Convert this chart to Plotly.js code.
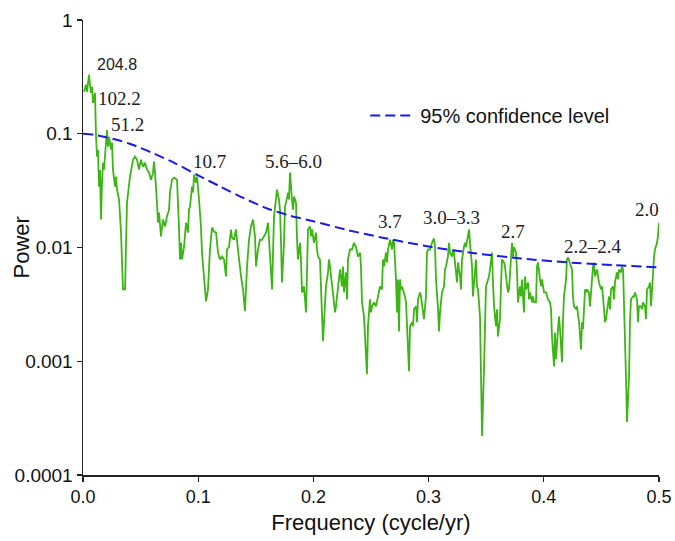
<!DOCTYPE html>
<html>
<head>
<meta charset="utf-8">
<script src="https://cdn.plot.ly/plotly-3.0.1.min.js"></script>
<style>html,body{margin:0;padding:0;background:#fff;}#chart{width:675px;height:541px;}</style>
</head>
<body>
<div id="chart"></div>
<script>
// Spectrum: frequency (cycle/yr) and power
const freq = [
0.0009,0.0026,0.0035,0.0052,0.0069,0.0078,0.0087,0.0104,0.0113,0.0122,0.0130,0.0139,0.0148,0.0156,0.0165,0.0174,0.0182,0.0200,0.0208,0.0217,
0.0226,0.0243,0.0252,0.0260,0.0278,0.0286,0.0295,0.0313,0.0330,0.0347,0.0365,0.0373,0.0382,0.0408,0.0434,0.0451,0.0469,0.0486,0.0503,0.0521,
0.0538,0.0556,0.0573,0.0590,0.0608,0.0616,0.0625,0.0642,0.0651,0.0660,0.0677,0.0694,0.0712,0.0729,0.0747,0.0755,0.0773,0.0790,0.0816,0.0833,
0.0842,0.0851,0.0859,0.0877,0.0885,0.0894,0.0911,0.0920,0.0929,0.0946,0.0955,0.0964,0.0981,0.0990,0.1007,0.1024,0.1033,0.1050,0.1068,0.1085,
0.1102,0.1120,0.1137,0.1155,0.1172,0.1189,0.1207,0.1224,0.1241,0.1250,0.1267,0.1285,0.1293,0.1311,0.1328,0.1345,0.1354,0.1372,0.1389,0.1406,
0.1424,0.1441,0.1458,0.1476,0.1493,0.1502,0.1519,0.1536,0.1554,0.1571,0.1589,0.1606,0.1623,0.1641,0.1658,0.1675,0.1684,0.1701,0.1710,0.1719,
0.1727,0.1745,0.1753,0.1762,0.1780,0.1788,0.1797,0.1814,0.1823,0.1832,0.1849,0.1858,0.1866,0.1884,0.1892,0.1901,0.1918,0.1927,0.1936,0.1953,
0.1970,0.1979,0.1988,0.2005,0.2023,0.2031,0.2040,0.2057,0.2075,0.2083,0.2092,0.2109,0.2127,0.2135,0.2144,0.2161,0.2179,0.2188,0.2196,0.2214,
0.2222,0.2231,0.2248,0.2257,0.2266,0.2283,0.2292,0.2300,0.2318,0.2335,0.2352,0.2370,0.2387,0.2405,0.2413,0.2422,0.2439,0.2448,0.2465,0.2474,
0.2491,0.2500,0.2509,0.2526,0.2543,0.2561,0.2578,0.2595,0.2604,0.2613,0.2630,0.2639,0.2648,0.2665,0.2682,0.2691,0.2700,0.2717,0.2726,0.2734,
0.2743,0.2752,0.2760,0.2769,0.2786,0.2795,0.2804,0.2821,0.2830,0.2839,0.2856,0.2865,0.2873,0.2891,0.2899,0.2908,0.2925,0.2934,0.2943,0.2960,
0.2977,0.2986,0.2995,0.3012,0.3030,0.3047,0.3056,0.3064,0.3082,0.3090,0.3099,0.3116,0.3134,0.3142,0.3151,0.3168,0.3177,0.3186,0.3203,0.3212,
0.3220,0.3238,0.3247,0.3255,0.3273,0.3281,0.3290,0.3307,0.3316,0.3325,0.3342,0.3351,0.3359,0.3377,0.3385,0.3394,0.3411,0.3420,0.3429,0.3446,
0.3455,0.3464,0.3481,0.3490,0.3498,0.3516,0.3524,0.3533,0.3550,0.3559,0.3568,0.3585,0.3594,0.3602,0.3620,0.3628,0.3637,0.3655,0.3663,0.3672,
0.3689,0.3698,0.3707,0.3724,0.3733,0.3741,0.3759,0.3767,0.3776,0.3793,0.3802,0.3811,0.3828,0.3837,0.3845,0.3863,0.3872,0.3880,0.3898,0.3906,
0.3915,0.3932,0.3941,0.3950,0.3967,0.3976,0.3984,0.4002,0.4019,0.4036,0.4054,0.4063,0.4071,0.4089,0.4097,0.4106,0.4123,0.4132,0.4141,0.4158,
0.4167,0.4175,0.4193,0.4201,0.4210,0.4227,0.4245,0.4253,0.4262,0.4280,0.4288,0.4306,0.4323,0.4332,0.4340,0.4358,0.4366,0.4375,0.4392,0.4401,
0.4410,0.4427,0.4436,0.4444,0.4462,0.4470,0.4479,0.4497,0.4505,0.4514,0.4531,0.4540,0.4549,0.4566,0.4575,0.4583,0.4601,0.4609,0.4618,0.4635,
0.4644,0.4653,0.4670,0.4679,0.4688,0.4705,0.4714,0.4722,0.4740,0.4748,0.4757,0.4774,0.4783,0.4792,0.4809,0.4818,0.4826,0.4844,0.4852,0.4861,
0.4878,0.4887,0.4896,0.4913,0.4922,0.4931,0.4948,0.4957,0.4965,0.4983,0.4991,0.5000
];
const power = [
0.234,0.269,0.234,0.329,0.229,0.258,0.187,0.229,0.094,0.0628,0.0724,0.0343,0.0483,0.0176,0.0371,0.0556,0.0483,0.0834,0.108,0.0770,
0.094,0.0724,0.0834,0.0483,0.0343,0.0420,0.0323,0.0264,0.0135,0.00428,0.00428,0.0101,0.0248,0.0420,0.0591,0.0628,0.0591,0.0483,0.0591,0.0513,
0.0556,0.0483,0.0455,0.0395,0.0455,0.0568,0.0455,0.0248,0.0165,0.0203,0.0125,0.0176,0.0153,0.0187,0.0215,0.0304,0.0395,0.0411,0.0395,0.0153,
0.00785,0.0110,0.00785,0.0101,0.0135,0.0165,0.0135,0.0215,0.0229,0.0343,0.0304,0.0437,0.0371,0.0420,0.0264,0.0153,0.0090,0.00556,0.00336,0.00428,
0.0096,0.0150,0.0138,0.0135,0.0090,0.00785,0.00834,0.00785,0.00556,0.0096,0.0101,0.0144,0.0122,0.0117,0.0144,0.0096,0.00785,0.00556,0.00428,0.00275,
0.00681,0.0117,0.0153,0.0176,0.0125,0.00681,0.0096,0.0117,0.0117,0.0125,0.0135,0.0165,0.00739,0.00428,0.0187,0.0280,0.0323,0.0264,0.0215,0.0110,
0.00493,0.0110,0.0229,0.0248,0.0304,0.0264,0.0455,0.0264,0.0215,0.0280,0.0248,0.0117,0.00785,0.0110,0.00785,0.00403,0.00455,0.00350,0.00269,0.0144,
0.0153,0.0125,0.0144,0.0110,0.0135,0.0096,0.00834,0.00785,0.00304,0.00150,0.00220,0.00455,0.00604,0.00785,0.00681,0.00493,0.00350,0.00269,0.00304,0.00455,
0.00524,0.00641,0.00455,0.00681,0.00403,0.00604,0.00350,0.00785,0.0096,0.0096,0.0110,0.0101,0.00834,0.0090,0.00681,0.00329,0.00248,0.00147,0.00077,0.00203,
0.00350,0.00269,0.00304,0.00329,0.00304,0.00371,0.00455,0.00428,0.00785,0.00681,0.0090,0.00739,0.0096,0.0117,0.0096,0.0117,0.0110,0.00524,0.00269,0.00524,
0.00183,0.00524,0.00428,0.00455,0.00403,0.00371,0.00329,0.00156,0.000817,0.00203,0.00220,0.00203,0.00286,0.00304,0.00220,0.00350,0.00403,0.00371,0.00304,0.00234,
0.00371,0.0090,0.0096,0.0096,0.0110,0.0120,0.0101,0.00524,0.00286,0.00183,0.00269,0.00403,0.00455,0.00641,0.00681,0.00834,0.0110,0.0090,0.00834,0.0096,
0.0090,0.00604,0.00493,0.00739,0.00556,0.00428,0.00785,0.0101,0.0110,0.0101,0.0135,0.0144,0.0110,0.00681,0.00371,0.00493,0.00785,0.00455,0.00428,0.00248,
0.000604,0.000220,0.00085,0.00234,0.00455,0.00524,0.00556,0.00641,0.0090,0.00493,0.00304,0.00203,0.00286,0.00165,0.00234,0.00455,0.00785,0.00739,0.00681,0.00556,
0.00403,0.00428,0.00641,0.0110,0.00834,0.0101,0.0090,0.00641,0.00329,0.00455,0.00371,0.00524,0.00269,0.00556,0.00428,0.00493,0.00350,0.00403,0.00329,0.00371,
0.00329,0.00329,0.00681,0.00739,0.00524,0.00455,0.00524,0.00403,0.00403,0.00350,0.00329,0.00286,0.00165,0.00090,0.00179,0.00104,0.00191,0.00248,0.00191,0.00098,
0.00234,0.00371,0.00524,0.00785,0.00817,0.00739,0.00641,0.00371,0.00304,0.00286,0.00304,0.00220,0.00127,0.00220,0.00191,0.00428,0.00403,0.00428,0.00403,0.00304,
0.00428,0.00681,0.00739,0.00556,0.00641,0.00556,0.00493,0.00428,0.00455,0.00371,0.00220,0.00234,0.00286,0.00371,0.00286,0.00428,0.00455,0.00350,0.00493,0.00604,
0.00524,0.00641,0.00604,0.00681,0.00641,0.00191,0.000695,0.000292,0.00074,0.00220,0.00350,0.00371,0.00371,0.00403,0.00350,0.00220,0.00304,0.00304,0.00286,0.00329,
0.00304,0.00234,0.00428,0.00455,0.00493,0.00304,0.00681,0.00834,0.0096,0.0110,0.0125,0.0165
];
// 95% confidence level
const confFreq = [0, 0.01, 0.02, 0.03, 0.04, 0.05, 0.06, 0.08, 0.10, 0.12, 0.14, 0.16, 0.18, 0.20, 0.23, 0.26, 0.30, 0.34, 0.38, 0.42, 0.46, 0.50];
const confPower = [0.1, 0.098, 0.093, 0.088, 0.082, 0.075, 0.068, 0.055, 0.043, 0.034, 0.027, 0.022, 0.019, 0.0170, 0.0142, 0.0122, 0.0102, 0.0089, 0.0080, 0.0074, 0.0070, 0.0067];
// Period labels (years)
const peakLabels = ["102.2","51.2","10.7","5.6–6.0","3.7","3.0–3.3","2.7","2.2–2.4","2.0"];
const xTickVals = [0, 0.1, 0.2, 0.3, 0.4, 0.5];
const xTickText = ["0.0","0.1","0.2","0.3","0.4","0.5"];
const yTickVals = [1, 0.1, 0.01, 0.001, 0.0001];
const yTickText = ["1","0.1","0.01","0.001","0.0001"];

const labelPos = [
  [0.03125,-0.693],[0.039,-0.921],[0.1094,-1.246],[0.1823,-1.247],[0.2665,-1.772],
  [0.3203,-1.737],[0.3733,-1.860],[0.4427,-1.991],[0.4896,-1.667]
];
const annotations = peakLabels.map((t,i)=>({
  x: labelPos[i][0], y: labelPos[i][1], xref:'x', yref:'y', text: t, showarrow:false,
  xanchor:'center', yanchor:'middle',
  font:{family:'"Liberation Serif", "Times New Roman", serif', size:19, color:'#222'}
}));
annotations.push({x:0.0295, y:-0.395, xref:'x', yref:'y', text:'204.8', showarrow:false,
  xanchor:'center', yanchor:'middle',
  font:{family:'Arial, "Liberation Sans", sans-serif', size:16, color:'#222'}});
annotations.push({x:-0.106, y:0.5, xref:'paper', yref:'paper', text:'Power', showarrow:false, textangle:-90,
  xanchor:'center', yanchor:'middle',
  font:{family:'Arial, "Liberation Sans", sans-serif', size:22, color:'#111'}});

const data = [
  {x: freq, y: power, type:'scatter', mode:'lines', name:'spectrum', showlegend:false,
   line:{color:'#3db516', width:1.8}},
  {x: confFreq, y: confPower, type:'scatter', mode:'lines', name:'95% confidence level',
   line:{color:'#1a1ae6', width:2, dash:'10px,5px', shape:'spline', smoothing:0.6}}
];
const layout = {
  width:675, height:541,
  margin:{l:83, r:16, t:20, b:66},
  paper_bgcolor:'#fff', plot_bgcolor:'#fff',
  font:{family:'Arial, "Liberation Sans", sans-serif', color:'#111'},
  xaxis:{range:[0,0.5], tickvals:xTickVals, ticktext:xTickText, ticks:'outside', ticklen:5, tickwidth:1.3,
    showline:true, linecolor:'#222', linewidth:1.5, showgrid:false, zeroline:false, tickcolor:'#222',
    tickfont:{size:18}, title:{text:'Frequency (cycle/yr)', font:{size:22}, standoff:8}},
  yaxis:{type:'log', range:[-4,0], tickvals:yTickVals, ticktext:yTickText, ticks:'outside', ticklen:5, tickwidth:1.3,
    showline:true, linecolor:'#222', linewidth:1.5, showgrid:false, zeroline:false, tickcolor:'#222',
    tickfont:{size:19}},
  showlegend:true,
  legend:{x:0.49, y:0.79, xanchor:'left', yanchor:'middle', itemwidth:45, bgcolor:'rgba(0,0,0,0)', font:{size:20, color:'#111'}},
  annotations: annotations
};
Plotly.newPlot('chart', data, layout, {displayModeBar:false, staticPlot:true});
</script>
</body>
</html>
